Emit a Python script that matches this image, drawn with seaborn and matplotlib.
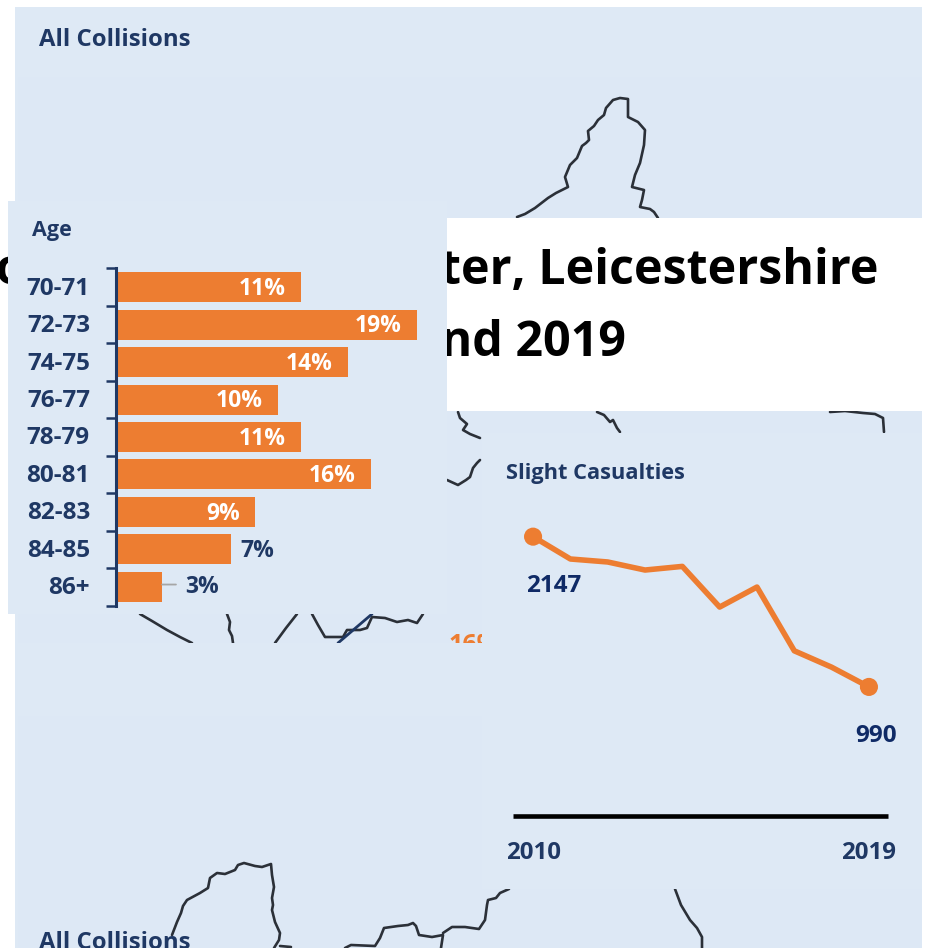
import matplotlib
matplotlib.use("Agg")
import matplotlib.pyplot as plt
from matplotlib.patches import Rectangle
from matplotlib.ticker import FixedLocator
from matplotlib.transforms import ScaledTranslation
import seaborn as sns
import pandas as pd

# ---------- data ----------
ages = ["70-71", "72-73", "74-75", "76-77", "78-79", "80-81", "82-83", "84-85", "86+"]
age_lengths = [11.56, 18.81, 14.5, 10.13, 11.56, 15.94, 8.69, 7.19, 2.88]
age_labels = ["11%", "19%", "14%", "10%", "11%", "16%", "9%", "7%", "3%"]
years = [2010, 2011, 2012, 2013, 2014, 2015, 2016, 2017, 2018, 2019]
slight = [2147, 1975, 1952, 1890, 1918, 1605, 1759, 1268, 1142, 990]
title_line1 = "Collisions  in  Leicester, Leicestershire"
title_line2 = "between 2010 and 2019"

# traced map outlines (picture pixels)
map_top = [(517,217),(525,214),(535,208),(548,198),(556,193),(568,187),(565,177),(570,165),(577,158),(582,146),(586,143),(589,140),(588,131),(594,126),(598,120),(604,115),(606,108),(613,100),(620,98),(628,99),(628,117),(638,122),(645,130),(644,145),(640,163),(635,175),(632,187),(644,190),(642,200),(640,207),(650,209),(654,212),(658,218)]
map_frag_a = [(458,412),(460,418),(467,424),(463,430),(470,434),(480,438)]
map_frag_b = [(447,480),(458,485),(466,480),(470,477),(473,468),(477,463),(480,460)]
map_frag_c = [(597,412),(604,415),(610,422),(613,420),(617,428),(620,432)]
map_frag_d = [(830,412),(845,411),(863,413),(875,414),(883,418),(884,432)]
map_frag_e = [(140,614),(152,621),(167,630),(180,637),(192,643)]
map_frag_f = [(227,614),(230,622),(229,630),(232,636),(233,643)]
map_frag_g = [(297,614),(286,628),(275,643)]
map_frag_h = [(312,614),(318,625),(325,637),(343,637),(347,630),(360,630),(367,628),(372,617),(385,618),(397,622),(408,620),(417,623),(423,614)]
map_low_a = [(172,935),(177,922),(181,913),(183,906),(187,900),(200,893),(208,888),(210,878),(217,873),(225,874),(235,870),(238,865),(244,863),(255,866),(262,867),(271,864),(272,875),(274,887),(272,898),(273,905),(272,910),(275,922),(280,933),(279,940),(274,948)]
map_low_b = [(280,946),(291,947)]
map_low_c = [(345,948),(351,945),(375,946),(380,938),(384,928),(398,926),(408,925),(413,923),(416,926),(419,935),(432,937),(443,935),(441,948)]
map_low_d = [(443,933),(452,927),(465,927),(479,929),(485,920),(487,905),(488,900),(496,898),(500,893),(509,889)]
map_low_e = [(675,889),(681,905),(690,920),(697,928),(702,937),(702,948)]
map_paths = [map_top, map_frag_a, map_frag_b, map_frag_c, map_frag_d, map_frag_e, map_frag_f,
             map_frag_g, map_frag_h, map_low_a, map_low_b, map_low_c, map_low_d, map_low_e]
navy_stroke = [(372,614),(338,643)]

# ---------- style ----------
sns.set_theme(style="white")
plt.rcParams["font.family"] = ["Open Sans", "DejaVu Sans"]
W, H = 928, 948
NAVY = "#1F3864"
DEEP = "#0F2A66"
ORANGE = "#ED7D31"
PANEL = "#DEE9F5"
MAPBG = "#DDE8F5"

def rect(l, t, r, b):
    return [l / W, 1 - b / H, (r - l) / W, (b - t) / H]

fig = plt.figure(figsize=(W / 100, H / 100), dpi=100, facecolor="white")
base = fig.add_axes([0, 0, 1, 1], zorder=0)
base.set_xlim(0, W); base.set_ylim(H, 0); base.axis("off")

def box(l, t, r, b, c, z):
    base.add_patch(Rectangle((l, t), r - l, b - t, fc=c, ec="none", zorder=z))

box(15, 7, 922, 948, PANEL, 1)
box(18, 77, 922, 948, MAPBG, 1.5)
for p in map_paths:
    base.plot([q[0] for q in p], [q[1] for q in p], color="#2B3038", lw=1.9, zorder=2,
              solid_joinstyle="round")
base.plot([q[0] for q in navy_stroke], [q[1] for q in navy_stroke], color=NAVY, lw=2, zorder=2.5)
base.text(449, 652, "16%", color=ORANGE, fontsize=18, fontweight="bold", ha="left", va="baseline", zorder=2.5)

# cover panels for the layered tiles
box(15, 643, 482, 716, PANEL, 3)
box(482, 433, 922, 889, PANEL, 3)
base.text(39, 40, "All Collisions", color=NAVY, fontsize=17.2, fontweight="bold", va="center", zorder=5)
base.text(39, 943, "All Collisions", color=NAVY, fontsize=17.2, fontweight="bold", va="center", zorder=5)

# white title tile
box(447, 218, 922, 411, "white", 3.2)
base.text(879, 272, title_line1, color="black", fontsize=34.8, fontweight="bold", ha="right", va="center", zorder=3.5)
base.text(626, 344, title_line2, color="black", fontsize=34.8, fontweight="bold", ha="right", va="center", zorder=3.5)

# age tile
box(8, 201, 447, 614, PANEL, 4)
base.text(32, 230, "Age", color=NAVY, fontsize=15.5, fontweight="bold", va="center", zorder=5)

# line chart heading
base.text(506, 473, "Slight Casualties", color=NAVY, fontsize=15.7, fontweight="bold", va="center", zorder=5)

# ---------- age bars ----------
axb = fig.add_axes(rect(116, 268.5, 447, 605.5), zorder=2)
axb.patch.set_alpha(0)
df_age = pd.DataFrame({"age": ages, "share": age_lengths})
sns.barplot(data=df_age, y="age", x="share", orient="h", color=ORANGE, saturation=1, width=0.8,
            linewidth=0, ax=axb)
axb.set_xlim(0, 331 / 16); axb.set_ylim(8.5, -0.5)
axb.set_xlabel(""); axb.set_ylabel(""); axb.set_xticks([])
for s in ["top", "right", "bottom"]:
    axb.spines[s].set_visible(False)
axb.spines["left"].set_color(NAVY); axb.spines["left"].set_linewidth(2.2)
axb.yaxis.set_minor_locator(FixedLocator([i - 0.5 for i in range(10)]))
axb.tick_params(axis="y", which="minor", length=7, width=1.8, color=NAVY, left=True)
axb.tick_params(axis="y", which="major", length=0, pad=18.8, labelsize=17.5, labelcolor=NAVY)
shift_up = ScaledTranslation(0, 1.5 / 100, fig.dpi_scale_trans)
for t in axb.get_yticklabels():
    t.set_fontweight("bold")
    t.set_transform(t.get_transform() + shift_up)
for i, (v, lab) in enumerate(zip(age_lengths, age_labels)):
    if v > 8:
        axb.annotate(lab, (v, i), xytext=(-11, -1.2), textcoords="offset points", ha="right", va="center",
                     color="white", fontsize=16.5, fontweight="bold")
    elif v > 4:
        axb.annotate(lab, (v, i), xytext=(6.5, -1.2), textcoords="offset points", ha="left", va="center",
                     color=NAVY, fontsize=16.5, fontweight="bold")
    else:
        axb.annotate(lab, (v, i), xytext=(16.5, 0), textcoords="offset points", ha="left", va="center",
                     color=NAVY, fontsize=16.5, fontweight="bold")
        axb.annotate("", (v, i - 0.06), xytext=(10, 0), textcoords=("offset points"),
                     arrowprops=dict(arrowstyle="-", color="#A6A6A6", lw=1.3, shrinkA=0, shrinkB=0))

# ---------- slight casualties ----------
axl = fig.add_axes(rect(513, 503.8, 888, 815.5), zorder=2)
axl.patch.set_alpha(0)
df_line = pd.DataFrame({"year": years, "slight": slight})
sns.lineplot(data=df_line, x="year", y="slight", color=ORANGE, lw=4, ax=axl, clip_on=False)
sns.scatterplot(data=df_line.iloc[[0, -1]], x="year", y="slight", color=ORANGE, s=170, edgecolor="none",
                ax=axl, clip_on=False, zorder=3)
axl.set_xlim(2010 - 20 / 37.2, 2019 + 19 / 37.2); axl.set_ylim(0, 2400)
axl.set_xlabel(""); axl.set_ylabel(""); axl.set_yticks([])
axl.set_xticks([2010, 2019])
axl.tick_params(axis="x", length=0, pad=18.5, labelsize=17.3, labelcolor=NAVY)
for t in axl.get_xticklabels():
    t.set_fontweight("bold")
for s in ["top", "right", "left"]:
    axl.spines[s].set_visible(False)
axl.spines["bottom"].set_color("black"); axl.spines["bottom"].set_linewidth(3.3)
axl.spines["bottom"].set_capstyle("butt")
axl.annotate(str(slight[0]), (years[0], slight[0]), xytext=(14.5, -35.5), textcoords="offset points",
             ha="center", va="center", color=DEEP, fontsize=17.5, fontweight="bold")
axl.annotate(str(slight[-1]), (years[-1], slight[-1]), xytext=(5, -35.5), textcoords="offset points",
             ha="center", va="center", color=DEEP, fontsize=17.5, fontweight="bold")

fig.savefig("out.png", dpi=100, facecolor="white")
